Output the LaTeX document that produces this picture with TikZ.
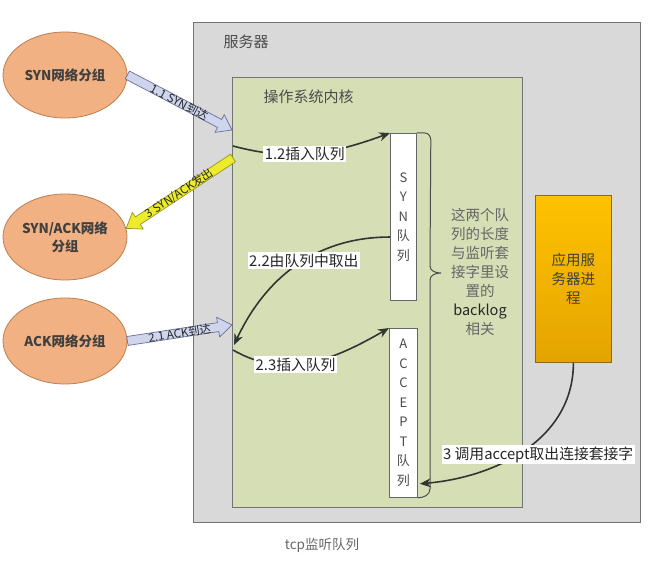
\documentclass[tikz,border=0pt]{standalone}
\usepackage{fontspec}
\setmainfont{Noto Sans CJK SC}
\usetikzlibrary{arrows.meta,calc,shapes.geometric}
\definecolor{ServerClr}{RGB}{217,217,217}
\definecolor{KernelClr}{RGB}{214,222,182}
\definecolor{PktClr}{RGB}{242,177,130}
\definecolor{PktEdge}{RGB}{190,125,80}
\definecolor{InClr}{RGB}{206,213,236}
\definecolor{InEdge}{RGB}{105,112,150}
\definecolor{OutClr}{RGB}{236,236,45}
\definecolor{OutEdge}{RGB}{150,150,30}
\definecolor{AppTop}{RGB}{255,194,0}
\definecolor{AppBot}{RGB}{228,164,0}
\definecolor{AppEdge}{RGB}{140,105,30}
\definecolor{LineClr}{RGB}{48,54,48}

\newcommand\pktfont{\fontsize{13.5}{18}\selectfont\bfseries}
\newcommand\lblfont{\fontsize{14.8}{17}\selectfont}
\newcommand\fatfont{\fontsize{11.5}{13}\selectfont}
\newcommand\qfont{\fontsize{13}{19.5}\selectfont}
\newcommand\notefont{\fontsize{14.5}{19}\selectfont}
\newcommand\titlefont{\fontsize{15}{17}\selectfont}

% block arrow: tail, tip, fill, edge, text
\newcommand\fatarrow[5]{%
  \coordinate (fh) at ($(#2)!14pt!(#1)$);
  \filldraw[fill=#3,draw=#4,line width=0.7pt,line join=round]
    ($(#1)!4.5pt!90:(#2)$) -- ($(fh)!4.5pt!-90:(#1)$) -- ($(fh)!10pt!-90:(#1)$) -- (#2)
    -- ($(fh)!10pt!90:(#1)$) -- ($(fh)!4.5pt!90:(#1)$) -- ($(#1)!4.5pt!-90:(#2)$) -- cycle;
  \path (#1) -- node[sloped,font=\fatfont,text=black!85] {#5} (#2);
}

\begin{document}
\begin{tikzpicture}[x=1pt,y=-1pt,
  pkt/.style={ellipse,draw=PktEdge,fill=PktClr,line width=0.8pt,minimum width=124,minimum height=86,inner sep=0,align=center,font=\pktfont,text=black!75},
  queue/.style={draw=black!60,fill=white,line width=0.8pt,anchor=north west,inner sep=0,align=center,font=\qfont,text=black!70},
  steplbl/.style={fill=white,inner sep=1.5pt,font=\lblfont,text=black!85},
  flow/.style={draw=LineClr,line width=1.6pt,-{Stealth[length=11pt,width=9pt]}}]
\useasboundingbox (0,0) rectangle (651,564);

\node[draw=black!55,fill=ServerClr,line width=0.8pt,minimum width=447,minimum height=500,anchor=north west] (server) at (193,22) {};
\node[anchor=west,font=\titlefont,text=black!70] (srvname) at (220,42) {服务器};
\node[draw=black!55,fill=KernelClr,line width=0.8pt,minimum width=290,minimum height=430,anchor=north west] (kernel) at (232,77) {};
\node[anchor=west,font=\titlefont,text=black!70] (kername) at (260,97) {操作系统内核};

\node[queue,minimum width=26,minimum height=167] (synq) at (390,133) {S\\Y\\N\\队\\列};
\node[queue,minimum width=28,minimum height=169] (accq) at (389,328) {A\\C\\C\\E\\P\\T\\队\\列};

\node[draw=AppEdge,top color=AppTop,bottom color=AppBot,line width=0.8pt,minimum width=76,minimum height=167,anchor=north west,align=center,font=\notefont,text=black!75] (app) at (535,195) {应用服\\务器进\\程};

\node[font=\notefont,align=center,text=black!60] (note) at (480,272) {这两个队\\列的长度\\与监听套\\接字里设\\置的\\\textcolor{black!85}{backlog}\\相关};

\node[pkt] (synpkt) at (65,75) {SYN网络分组};
\node[pkt] (sapkt) at (65,237) {SYN/ACK网络\\分组};
\node[pkt] (ackpkt) at (65,341) {ACK网络分组};

\coordinate (synin) at (232,130);
\coordinate (saout) at (233,158);
\coordinate (ackin) at (232,325);
\coordinate (k12) at (233,146);
\coordinate (k22) at (234,345);
\coordinate (k23) at (233,350);

\fatarrow{synpkt.east}{synin}{InClr}{InEdge}{1.1 SYN到达}
\fatarrow{saout}{sapkt.8}{OutClr}{OutEdge}{3 SYN/ACK发出}
\fatarrow{ackpkt.east}{ackin}{InClr}{InEdge}{2.1 ACK到达}

\draw[flow] (k12) to[out=-15,in=200] node[steplbl,pos=0.45] {1.2插入队列} (synq.north west);
\draw[flow] ($(synq.south west)!0.38!(synq.north west)$) to[out=180,in=65] node[steplbl,pos=0.45] {2.2由队列中取出} (k22);
\draw[flow] (k23) to[out=-30,in=210] node[steplbl,pos=0.4] {2.3插入队列} (accq.north west);
\draw[flow] (app.south) to[out=-90,in=5] node[steplbl,pos=0.5,xshift=13pt,yshift=-5pt] {3 调用accept取出连接套接字} ($(accq.south east)+(2,-14)$);

\draw[black!70,line width=1pt] (synq.north east) -- ++(8,0) to[out=0,in=90] ++(6,7) -- (430,266) to[out=-90,in=180] (441,273) to[out=180,in=90] (430,280) -- (430,489) to[out=-90,in=0] (accq.south east);

\node[font=\fontsize{13.5}{16}\selectfont,text=black!60] (cap) at (322,545) {tcp监听队列};
\end{tikzpicture}
\end{document}
